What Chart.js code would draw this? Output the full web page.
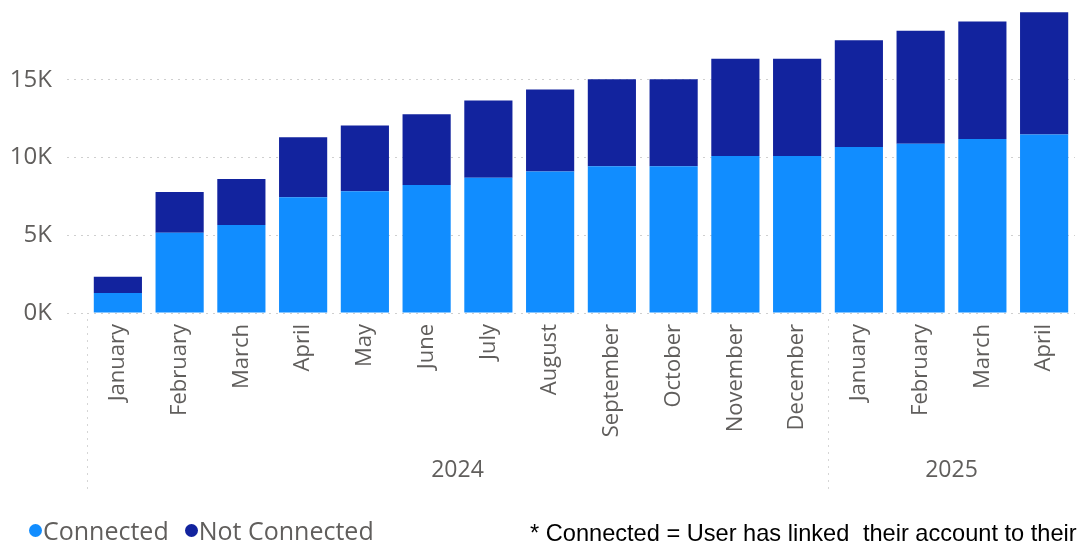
<!DOCTYPE html>
<html>
<head>
<meta charset="utf-8">
<script src="https://cdn.jsdelivr.net/npm/chart.js@4/dist/chart.umd.min.js"></script>
<style>
    html, body { margin: 0; padding: 0; background: #fff; }
    #wrap { position: relative; width: 1080px; height: 549px; overflow: hidden; }
    #legend { position: absolute; left: 29px; top: 515px; font-family: 'Open Sans', sans-serif; font-size: 25px; line-height: 30px; color: #605E5C; white-space: nowrap; }
    #legend span.item { margin-right: 16px; }
    #legend span.dot { display: inline-block; width: 13px; height: 13px; border-radius: 50%; margin-right: 1px; vertical-align: 3px; }
    #note { position: absolute; left: 530px; top: 519px; font-family: 'Liberation Sans', Arial, sans-serif; font-size: 23.6px; line-height: 28px; color: #000; white-space: nowrap; }
    #note .gap { display: inline-block; width: 7px; }
</style>
</head>
<body>
<div id="wrap">
    <canvas id="chart" width="1080" height="549"></canvas>
    <div id="legend"></div>
    <div id="note">* Connected = User has linked<span class="gap"></span> their account to their</div>
</div>
<script>
const months = ['January', 'February', 'March', 'April', 'May', 'June', 'July', 'August',
    'September', 'October', 'November', 'December', 'January', 'February', 'March', 'April'];
const years = ['2024', '2025'];
const monthsPerYear = [12, 4];
const connected = [1280, 5170, 5670, 7450, 7840, 8240, 8710, 9100, 9450, 9450, 10110, 10110, 10690, 10900, 11200, 11480];
const notConnected = [1050, 2620, 2960, 3860, 4220, 4550, 4960, 5280, 5600, 5600, 6250, 6250, 6870, 7260, 7560, 7880];
const yTicks = [0, 5000, 10000, 15000];

const textGray = '#605E5C';

// linha de anos abaixo dos meses + separadores pontilhados
const yearRow = {
    id: 'yearRow',
    afterDraw(chart) {
        const ctx = chart.ctx;
        const x = chart.scales.x;
        const half = (x.getPixelForTick(1) - x.getPixelForTick(0)) / 2;
        let start = 0;
        ctx.save();
        ctx.strokeStyle = '#d6d6d6';
        ctx.lineWidth = 1;
        ctx.setLineDash([2, 5]);
        ctx.fillStyle = textGray;
        ctx.font = '23px "Open Sans"';
        ctx.textAlign = 'center';
        ctx.textBaseline = 'middle';
        years.forEach((year, i) => {
            const left = x.getPixelForTick(start) - half;
            const right = x.getPixelForTick(start + monthsPerYear[i] - 1) + half;
            ctx.beginPath();
            ctx.moveTo(Math.round(left) + 0.5, chart.chartArea.bottom + 6);
            ctx.lineTo(Math.round(left) + 0.5, 492);
            ctx.stroke();
            ctx.fillText(year, (left + right) / 2, 470);
            start += monthsPerYear[i];
        });
        ctx.restore();
    }
};

const chart = new Chart(document.getElementById('chart').getContext('2d'), {
    type: 'bar',
    data: {
        labels: months,
        datasets: [{
            label: 'Connected',
            data: connected,
            backgroundColor: '#118DFF',
            barPercentage: 0.78,
            categoryPercentage: 1
        }, {
            label: 'Not Connected',
            data: notConnected,
            backgroundColor: '#12239E',
            barPercentage: 0.78,
            categoryPercentage: 1
        }]
    },
    options: {
        responsive: false,
        animation: false,
        layout: { padding: { top: 10, right: 5, bottom: 46, left: 0 } },
        plugins: {
            legend: { display: false },
            tooltip: { enabled: false }
        },
        scales: {
            x: {
                stacked: true,
                grid: { display: false },
                border: { display: false },
                ticks: {
                    color: textGray,
                    font: { family: 'Open Sans', size: 22 },
                    minRotation: 90,
                    maxRotation: 90,
                    autoSkip: false,
                    padding: 3
                },
                afterFit(scale) { scale.height = 190; }
            },
            y: {
                stacked: true,
                min: 0,
                max: 19500,
                border: { display: false, dash: [2, 5] },
                grid: {
                    color: '#cfcfcf',
                    tickLength: 20,
                    tickColor: '#cfcfcf',
                    tickBorderDash: [2, 5]
                },
                ticks: {
                    color: textGray,
                    font: { family: 'Open Sans', size: 24 },
                    padding: 15,
                    callback: v => (v / 1000) + 'K'
                },
                afterBuildTicks(scale) {
                    scale.ticks = yTicks.map(v => ({ value: v }));
                },
                afterFit(scale) {
                    scale.width = 87;
                    scale.paddingTop = 0;
                    scale.paddingBottom = 0;
                }
            }
        }
    },
    plugins: [yearRow]
});

// legenda em HTML, montada a partir dos datasets
const legend = document.getElementById('legend');
chart.data.datasets.forEach(ds => {
    const item = document.createElement('span');
    item.className = 'item';
    item.innerHTML = '<span class="dot" style="background:' + ds.backgroundColor + '"></span>' + ds.label;
    legend.appendChild(item);
});
</script>
</body>
</html>
